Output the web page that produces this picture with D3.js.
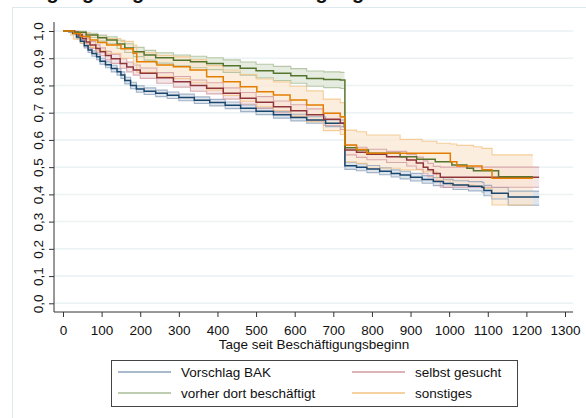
<!DOCTYPE html>
<html><head><meta charset="utf-8">
<script src="https://cdn.jsdelivr.net/npm/d3@7"></script>
<style>body{margin:0;background:#fff}svg{display:block}text{font-family:"Liberation Sans",Arial,sans-serif}</style>
</head><body><svg id="c" width="586" height="418"></svg>
<script>
// ---- data ----
const titleText = "Zugangswegen nach Beschäftigung";
const xTitle = "Tage seit Beschäftigungsbeginn";
const xTicks = [0,100,200,300,400,500,600,700,800,900,1000,1100,1200,1300];
const yTicks = [0,0.1,0.2,0.3,0.4,0.5,0.6,0.7,0.8,0.9,1.0];
const seriesNames = ["Vorschlag BAK","selbst gesucht","vorher dort beschäftigt","sonstiges"];

const blueDays = [0,15,25,35,45,55,65,75,87,96,110,125,140,150,160,175,190,210,240,270,300,340,380,420,460,500,545,590,631,680,729,730,760,787,820,850,873,900,930,959,985,1010,1050,1085,1090,1110,1153,1233];
const blueSurv = [1,0.998,0.992,0.978,0.962,0.946,0.93,0.917,0.905,0.889,0.876,0.862,0.85,0.838,0.818,0.8,0.787,0.779,0.771,0.764,0.756,0.746,0.737,0.727,0.716,0.705,0.692,0.682,0.673,0.661,0.647,0.505,0.5,0.493,0.485,0.477,0.471,0.463,0.455,0.447,0.44,0.434,0.43,0.426,0.414,0.404,0.39,0.39];
const blueLo = [1,0.996,0.988,0.972,0.955,0.938,0.921,0.907,0.895,0.878,0.865,0.85,0.838,0.826,0.806,0.788,0.775,0.767,0.759,0.752,0.744,0.734,0.725,0.715,0.704,0.693,0.68,0.67,0.661,0.649,0.635,0.492,0.487,0.48,0.472,0.464,0.457,0.449,0.441,0.432,0.425,0.418,0.413,0.408,0.395,0.383,0.36,0.36];
const blueHi = [1,1,0.996,0.984,0.969,0.954,0.939,0.927,0.915,0.9,0.887,0.874,0.862,0.85,0.83,0.812,0.799,0.791,0.783,0.776,0.768,0.758,0.749,0.739,0.728,0.717,0.704,0.694,0.685,0.673,0.659,0.518,0.513,0.506,0.498,0.49,0.485,0.477,0.469,0.462,0.455,0.45,0.447,0.444,0.433,0.425,0.412,0.412];

const redDays = [0,20,30,40,50,60,70,85,96,110,125,148,165,182,200,243,286,330,372,415,459,500,545,590,631,675,718,729,730,760,787,838,890,915,933,945,959,977,1233];
const redSurv = [1,1,0.995,0.985,0.972,0.96,0.949,0.936,0.924,0.91,0.898,0.881,0.868,0.857,0.845,0.828,0.814,0.8,0.79,0.771,0.753,0.738,0.722,0.707,0.692,0.676,0.661,0.655,0.563,0.555,0.547,0.538,0.526,0.515,0.5,0.49,0.477,0.463,0.463];
const redLo = [1,1,0.99,0.977,0.962,0.948,0.936,0.922,0.909,0.894,0.881,0.863,0.85,0.838,0.826,0.808,0.794,0.779,0.769,0.75,0.731,0.716,0.7,0.685,0.669,0.653,0.638,0.632,0.545,0.536,0.527,0.517,0.504,0.492,0.476,0.465,0.45,0.426,0.426];
const redHi = [1,1,0.999,0.992,0.981,0.971,0.961,0.949,0.938,0.925,0.914,0.898,0.886,0.875,0.864,0.847,0.833,0.82,0.81,0.791,0.774,0.759,0.743,0.729,0.714,0.698,0.683,0.677,0.58,0.573,0.566,0.558,0.547,0.537,0.523,0.514,0.503,0.5,0.5];

const greenDays = [0,27,60,90,113,140,160,182,210,240,286,330,372,415,459,500,545,590,631,675,718,729,730,761,791,873,916,964,1007,1046,1063,1128,1217];
const greenSurv = [1,0.995,0.985,0.975,0.967,0.952,0.938,0.924,0.912,0.902,0.893,0.887,0.881,0.872,0.863,0.854,0.845,0.836,0.826,0.822,0.82,0.82,0.571,0.563,0.551,0.538,0.529,0.52,0.508,0.496,0.487,0.465,0.465];
const greenLo = [1,0.989,0.976,0.963,0.953,0.936,0.921,0.906,0.893,0.882,0.872,0.865,0.858,0.848,0.838,0.828,0.818,0.808,0.797,0.792,0.789,0.787];
const greenHi = [1,0.999,0.992,0.985,0.979,0.966,0.953,0.94,0.929,0.92,0.912,0.907,0.902,0.894,0.886,0.878,0.87,0.862,0.853,0.85,0.848,0.848];

const orangeDays = [0,20,27,45,70,90,113,150,182,191,243,286,329,372,415,459,502,545,588,631,674,718,729,730,760,786,873,930,968,1003,1020,1063,1085,1111,1217];
const orangeSurv = [1,1,0.991,0.98,0.967,0.958,0.949,0.935,0.918,0.887,0.875,0.869,0.857,0.832,0.814,0.795,0.777,0.765,0.747,0.728,0.698,0.685,0.685,0.581,0.565,0.551,0.551,0.551,0.551,0.52,0.504,0.504,0.49,0.459,0.459];
const orangeLo = [1,0.985,0.97,0.955,0.94,0.928,0.918,0.9,0.88,0.848,0.833,0.825,0.81,0.783,0.763,0.742,0.722,0.708,0.688,0.667,0.634,0.62,0.618,0.52,0.514,0.496,0.49,0.483,0.453,0.434,0.434,0.43,0.422,0.361,0.361];
const orangeHi = [1,1,0.999,0.994,0.985,0.978,0.972,0.962,0.948,0.92,0.91,0.905,0.895,0.873,0.857,0.84,0.824,0.813,0.797,0.78,0.75,0.737,0.734,0.636,0.63,0.618,0.602,0.595,0.588,0.585,0.58,0.575,0.569,0.545,0.545];

const lineColors = ["#1a476f","#90353b","#55752f","#e37e00"];
const ciColors = ["#8ea3bd","#cf9aa1","#a9bb97","#f3c384"];
const ciFills = ["#d2dae4","#efdadd","#dce5d3","#fbe7d2"];

// ---- build ----
const series = [
  {days:blueDays,surv:blueSurv,lo:blueLo,hi:blueHi},
  {days:redDays,surv:redSurv,lo:redLo,hi:redHi},
  {days:greenDays,surv:greenSurv,lo:greenLo,hi:greenHi},
  {days:orangeDays,surv:orangeSurv,lo:orangeLo,hi:orangeHi}
];

const svg = d3.select("#c");
const x = d3.scaleLinear().domain([0,1300]).range([63,565]);
const y = d3.scaleLinear().domain([0,1]).range([303.3,31]);
const plotL = 54, plotR = 573, axisY = 312;

// outer panel border
svg.append("rect").attr("x",12.5).attr("y",7.5).attr("width",700).attr("height",600)
  .attr("fill","#fff").attr("stroke","#dde9ed").attr("stroke-width",1);

// title (mostly cut off at top)
svg.append("text").attr("x",22).attr("y",-1).attr("font-size",20).attr("font-weight","bold")
  .attr("fill","#111").text(titleText);

// gridlines
svg.append("g").selectAll("line").data(yTicks).join("line")
  .attr("x1",plotL).attr("x2",plotR).attr("y1",d=>y(d)).attr("y2",d=>y(d))
  .attr("stroke","#eaf2f4").attr("stroke-width",1.5);

// CI bands
const area = d3.area().curve(d3.curveStepAfter).x(d=>x(d.d)).y0(d=>y(d.lo)).y1(d=>y(d.hi));
const lineLo = d3.line().curve(d3.curveStepAfter).x(d=>x(d.d)).y(d=>y(d.lo));
const lineHi = d3.line().curve(d3.curveStepAfter).x(d=>x(d.d)).y(d=>y(d.hi));
const line = d3.line().curve(d3.curveStepAfter).x(d=>x(d.d)).y(d=>y(d.s));

const bandG = svg.append("g");
series.forEach((s,k)=>{
  const pts = s.lo.map((v,i)=>({d:s.days[i],lo:v,hi:s.hi[i]}));
  bandG.append("path").attr("d",area(pts)).attr("fill",ciFills[k]).attr("fill-opacity",0.7);
});
series.forEach((s,k)=>{
  const pts = s.lo.map((v,i)=>({d:s.days[i],lo:v,hi:s.hi[i]}));
  bandG.append("path").attr("d",lineLo(pts)).attr("fill","none").attr("stroke",ciColors[k]).attr("stroke-width",1.1).attr("stroke-opacity",0.8);
  bandG.append("path").attr("d",lineHi(pts)).attr("fill","none").attr("stroke",ciColors[k]).attr("stroke-width",1.1).attr("stroke-opacity",0.8);
});

// survival lines
series.forEach((s,k)=>{
  const pts = s.days.map((d,i)=>({d:d,s:s.surv[i]}));
  svg.append("path").attr("d",line(pts)).attr("fill","none")
    .attr("stroke",lineColors[k]).attr("stroke-width",1.5);
});

// axes
const fmt = d => d3.format(".1f")(d).replace(".", ",");
const yAx = svg.append("g").attr("transform",`translate(${plotL},0)`)
  .call(d3.axisLeft(y).tickValues(yTicks).tickFormat(fmt).tickSize(5).tickSizeOuter(0));
yAx.select(".domain").attr("d",`M0,22V${axisY}`).attr("stroke","#333");
yAx.selectAll(".tick line").attr("stroke","#333");
yAx.selectAll(".tick text").attr("x",0).attr("dy","0.36em").attr("text-anchor","middle")
  .attr("transform","translate(-16,0) rotate(-90)").attr("font-size",13.5).attr("fill","#111")
  .attr("font-family",'"Liberation Sans",Arial,sans-serif');

const xAx = svg.append("g").attr("transform",`translate(0,${axisY})`)
  .call(d3.axisBottom(x).tickValues(xTicks).tickFormat(d3.format("d")).tickSize(5).tickPadding(8).tickSizeOuter(0));
xAx.select(".domain").attr("d",`M${plotL},0H${plotR}`).attr("stroke","#333");
xAx.selectAll(".tick line").attr("stroke","#333");
xAx.selectAll(".tick text").attr("font-size",13.5).attr("fill","#111")
  .attr("font-family",'"Liberation Sans",Arial,sans-serif');

svg.append("text").attr("x",314).attr("y",349).attr("text-anchor","middle")
  .attr("font-size",13.5).attr("fill","#111").text(xTitle);

// legend
const lg = svg.append("g");
lg.append("rect").attr("x",111.5).attr("y",360.5).attr("width",406).attr("height",46)
  .attr("fill","#fff").attr("stroke","#444").attr("stroke-width",1);
const legPos = [[118,372],[352,372],[118,393],[352,393]];
const legOrder = [0,1,2,3];
legOrder.forEach((k,i)=>{
  const [lx,ly] = legPos[i];
  lg.append("line").attr("x1",lx).attr("x2",lx+53).attr("y1",ly).attr("y2",ly)
    .attr("stroke",ciColors[k]).attr("stroke-width",1.5);
  lg.append("text").attr("x",lx+63).attr("y",ly+5).attr("font-size",13.5).attr("fill","#111")
    .text(seriesNames[k]);
});
</script></body></html>
